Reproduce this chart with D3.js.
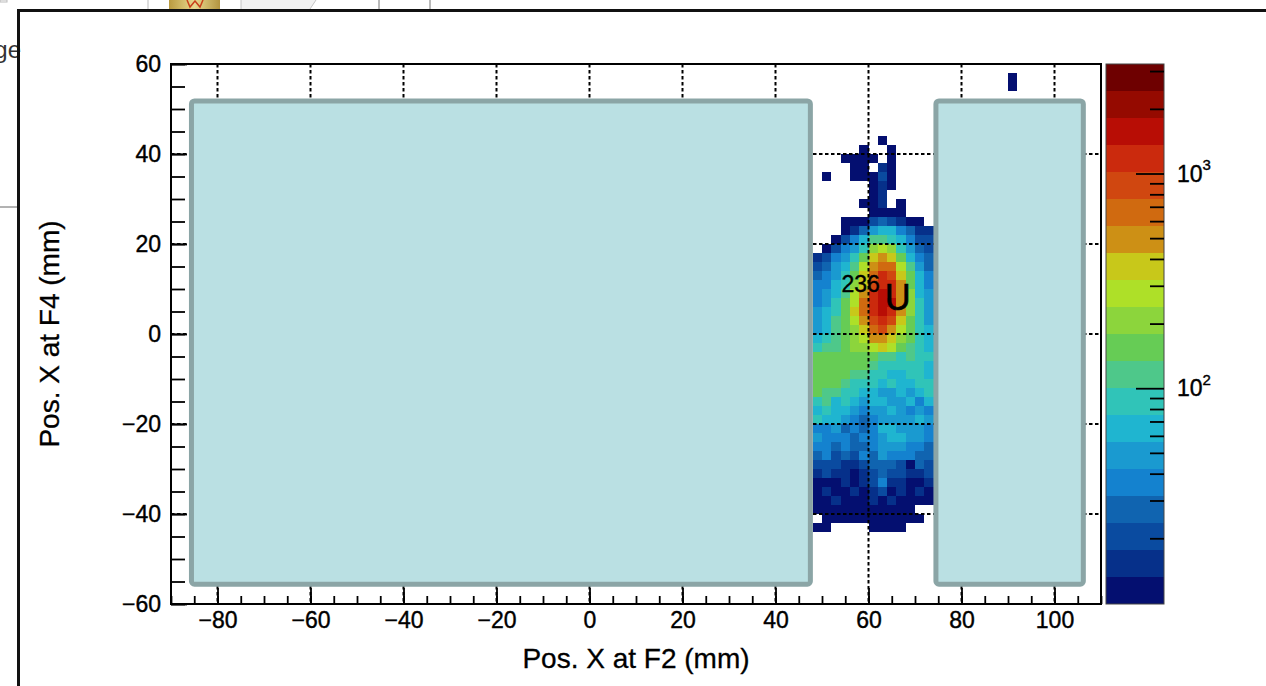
<!DOCTYPE html>
<html lang="en">
<head>
<meta charset="UTF-8" />
<title>Pos. X at F4 vs Pos. X at F2</title>
<script src="https://d3js.org/d3.v7.min.js"></script>
<style>
  body { margin: 0; background: #fff; }
  svg { display: block; font-family: "Liberation Sans", Arial, sans-serif; }
</style>
</head>
<body>
<svg width="1266" height="686" id="chart"></svg>
<script>
// bin lower edges (mm), 2 mm bins
const binX = [48, 50, 52, 54, 56, 58, 60, 62, 64, 66, 68, 70, 72];
const binY = [42, 40, 38, 36, 34, 32, 30, 28, 26, 24, 22, 20, 18, 16, 14, 12, 10, 8, 6, 4, 2, 0,
  -2, -4, -6, -8, -10, -12, -14, -16, -18, -20, -22, -24, -26, -28, -30, -32, -34, -36, -38, -40, -42, -44];
const binSize = 2;

// counts per cell, one row per binY entry (null = empty bin)
const counts = [
  [null,null,null,null,null,null,null,11,null,null,null,null,null],
  [null,null,null,null,null,11,null,null,11,null,null,null,null],
  [null,null,null,11,11,11,11,null,11,null,null,null,null],
  [null,null,null,null,11,11,null,15,11,null,null,null,null],
  [null,11,null,null,11,11,11,20,11,null,null,null,null],
  [null,null,null,null,null,null,11,15,11,null,null,null,null],
  [null,null,null,null,null,null,11,15,null,null,null,null,null],
  [null,null,null,null,null,11,11,15,null,11,null,null,null],
  [null,null,null,null,null,null,11,11,11,11,null,null,null],
  [null,null,null,11,11,11,20,27,20,15,11,11,null],
  [null,null,null,11,15,27,49,65,65,36,27,15,15],
  [null,null,11,20,36,65,116,116,87,65,36,20,20],
  [null,11,20,36,49,87,207,276,207,87,49,27,20],
  [15,20,36,49,87,155,369,493,369,155,65,36,27],
  [20,27,49,65,116,276,493,659,659,276,116,49,27],
  [27,36,49,87,155,369,659,1175,880,369,155,65,36],
  [36,36,65,87,207,369,880,1175,1175,493,155,65,36],
  [36,49,65,116,276,493,1175,1570,1175,493,207,65,49],
  [36,49,87,155,276,659,1175,1570,1570,493,207,87,49],
  [49,65,87,155,369,659,1175,1570,1175,493,207,87,49],
  [49,65,116,155,276,493,880,1175,880,369,155,87,49],
  [49,65,116,155,207,369,659,880,493,276,155,87,65],
  [65,87,116,155,207,276,493,493,369,207,155,87,65],
  [87,116,116,155,207,207,276,369,276,155,116,87,65],
  [155,155,155,155,155,155,155,116,116,87,116,87,87],
  [155,155,155,155,155,155,116,87,87,87,87,87,65],
  [155,155,155,155,116,116,87,87,65,65,87,87,65],
  [155,155,155,116,87,87,87,65,87,65,65,87,87],
  [155,116,116,87,87,65,65,49,49,65,49,65,87],
  [87,116,65,87,65,49,65,65,49,49,65,36,65],
  [65,87,65,65,49,36,49,49,65,49,36,49,36],
  [87,65,65,49,36,27,36,49,49,49,49,65,49],
  [36,36,49,27,36,27,36,65,65,49,49,49,36],
  [49,36,36,36,27,36,36,49,65,65,49,49,36],
  [36,36,27,36,27,27,36,49,49,49,36,36,27],
  [27,36,20,27,20,36,27,49,36,36,36,27,27],
  [20,20,20,15,15,20,27,27,27,20,11,27,20],
  [15,20,15,15,11,15,20,27,20,20,15,15,20],
  [11,11,11,15,11,15,20,36,15,15,11,11,15],
  [11,15,11,11,15,11,15,20,11,15,11,15,11],
  [11,11,15,11,11,11,15,11,15,11,11,11,11],
  [11,11,11,11,11,11,11,11,11,11,11,null,null],
  [null,11,11,11,11,11,11,11,11,11,11,11,null],
  [11,11,null,null,null,null,11,11,11,11,null,null,null]
];

// isolated bins outside the main block
const strayX = [90, 90];
const strayY = [54, 56];
const strayN = [11, 11];

const xTicks = [-80, -60, -40, -20, 0, 20, 40, 60, 80, 100];
const yTicks = [-60, -40, -20, 0, 20, 40, 60];
const zRange = [9.886, 3236];
const zTicks = [100, 1000];
const zTickExp = ["2", "3"];
const zMinor = [20, 30, 40, 50, 60, 70, 80, 90, 200, 300, 400, 500, 600, 700, 800, 900, 2000, 3000];

const palette = ["#040f70","#06308a","#0a4ba0","#1064b0","#1482cf","#1a9ad0","#1fb5d0","#30c4b8",
  "#4ec88a","#66cc55","#8cd53c","#aee028","#c8c81a","#cd9015","#d06a10","#d04710","#cb2a0d",
  "#b80d05","#950a00","#6e0000"];

// slide overlays covering the plot (mm)
const masks = [
  { x0: -85.6, x1: 47.5, y0: -55.6, y1: 51.8 },
  { x0: 74.5, x1: 106.2, y0: -55.6, y1: 51.8 }
];

const svg = d3.select("#chart");
const font = "'Liberation Sans', Arial, sans-serif";

const x = d3.scaleLinear().domain([-90, 110]).range([171, 1101]);
const y = d3.scaleLinear().domain([-60, 60]).range([604, 64]);
const z = d3.scaleLog().domain(zRange).range([604, 64]);
const color = d3.scaleQuantize()
  .domain([Math.log10(zRange[0]), Math.log10(zRange[1])])
  .range(palette);

svg.append("rect").attr("width", 1266).attr("height", 686).attr("fill", "#fff");

// bits of the neighbouring slide
const strip = svg.append("g");
const grad = svg.append("defs").append("linearGradient").attr("id", "pic");
grad.append("stop").attr("offset", "0%").attr("stop-color", "#b99a40");
grad.append("stop").attr("offset", "50%").attr("stop-color", "#e8d98e");
grad.append("stop").attr("offset", "100%").attr("stop-color", "#b39440");
strip.append("rect").attr("x", 0).attr("y", 0).attr("width", 7).attr("height", 2)
  .attr("fill", "none").attr("stroke", "#bbb");
strip.append("line").attr("x1", 148).attr("x2", 148).attr("y1", 0).attr("y2", 9).attr("stroke", "#bbb");
strip.append("rect").attr("x", 169).attr("y", 0).attr("width", 51).attr("height", 9).attr("fill", "url(#pic)");
strip.append("path").attr("d", "M187,0 L190,7 L195,1 L200,7 L203,0")
  .attr("fill", "none").attr("stroke", "#c8401a").attr("stroke-width", 1.5);
strip.append("path").attr("d", "M241,9 L241,0 L316,0 L310,9 Z").attr("fill", "#f1f1f1");
strip.append("path").attr("d", "M241,9 L241,0 M316,0 L310,9").attr("fill", "none").attr("stroke", "#c4c4c4");
strip.append("line").attr("x1", 379).attr("x2", 379).attr("y1", 0).attr("y2", 9).attr("stroke", "#777");
strip.append("line").attr("x1", 430).attr("x2", 430).attr("y1", 0).attr("y2", 9).attr("stroke", "#777");
svg.append("text").attr("x", 21).attr("y", 58).attr("text-anchor", "end")
  .attr("font-size", 24).attr("font-family", font).attr("fill", "#333").text("ge");
svg.append("line").attr("x1", 0).attr("x2", 18).attr("y1", 207).attr("y2", 207)
  .attr("stroke", "#666").attr("stroke-width", 1);

// slide frame
svg.append("path").attr("d", "M18.5,686 L18.5,10.5 L1266,10.5")
  .attr("fill", "none").attr("stroke", "#111").attr("stroke-width", 3);

// histogram cells
const cells = [];
counts.forEach((row, i) => {
  row.forEach((n, j) => {
    if (n !== null) cells.push({ bx: binX[j], by: binY[i], n: n });
  });
});
strayX.forEach((bx, i) => cells.push({ bx: bx, by: strayY[i], n: strayN[i] }));

svg.append("g").selectAll("rect")
  .data(cells)
  .join("rect")
  .attr("x", d => x(d.bx))
  .attr("y", d => y(d.by + binSize))
  .attr("width", d => x(d.bx + binSize) - x(d.bx))
  .attr("height", d => y(d.by) - y(d.by + binSize))
  .attr("fill", d => color(Math.log10(d.n)))
  .attr("shape-rendering", "crispEdges");

// dashed grid
const grid = svg.append("g")
  .attr("stroke", "#000").attr("stroke-width", 2).attr("stroke-dasharray", "3.5,2.5");
grid.selectAll(".gx").data(xTicks).join("line")
  .attr("x1", d => x(d)).attr("x2", d => x(d))
  .attr("y1", y(60)).attr("y2", y(-60));
grid.selectAll(".gy").data(yTicks.filter(d => d > -60 && d < 60)).join("line")
  .attr("y1", d => y(d)).attr("y2", d => y(d))
  .attr("x1", x(-90)).attr("x2", x(110));

// label
svg.append("text").attr("x", x(54.2)).attr("y", y(9.4))
  .attr("font-size", 23).attr("font-family", font)
  .attr("stroke", "#000").attr("stroke-width", 0.4).text("236");
svg.append("text").attr("x", x(63.5)).attr("y", y(5.4))
  .attr("font-size", 36).attr("font-family", font)
  .attr("stroke", "#000").attr("stroke-width", 0.6).text("U");

// overlay boxes
svg.append("g").selectAll("rect")
  .data(masks)
  .join("rect")
  .attr("x", d => x(d.x0))
  .attr("y", d => y(d.y1))
  .attr("width", d => x(d.x1) - x(d.x0))
  .attr("height", d => y(d.y0) - y(d.y1))
  .attr("rx", 3)
  .attr("fill", "#bae0e3")
  .attr("stroke", "#8ba5a6")
  .attr("stroke-width", 5);

// axes
function styleAxis(g, size) {
  g.select(".domain").remove();
  g.attr("font-size", size).attr("font-family", font);
  g.selectAll(".tick line").attr("stroke", "#000").attr("stroke-width", 1.8);
  g.selectAll(".tick text").attr("fill", "#000").attr("stroke", "#000").attr("stroke-width", 0.4);
}

svg.append("g").attr("transform", "translate(0,604)")
  .call(d3.axisBottom(x).tickValues(d3.range(-90, 111, 5)).tickSize(-8).tickFormat(""))
  .call(g => styleAxis(g, 23));
svg.append("g").attr("transform", "translate(0,604)")
  .call(d3.axisBottom(x).tickValues(xTicks).tickSize(-16).tickPadding(8))
  .call(g => styleAxis(g, 23));

svg.append("g").attr("transform", "translate(171,0)")
  .call(d3.axisLeft(y).tickValues(d3.range(-60, 61, 5)).tickSize(-14).tickFormat(""))
  .call(g => styleAxis(g, 23));
svg.append("g").attr("transform", "translate(171,0)")
  .call(d3.axisLeft(y).tickValues(yTicks).tickSize(-16).tickPadding(10))
  .call(g => styleAxis(g, 23));

// frame
svg.append("rect")
  .attr("x", x(-90)).attr("y", y(60))
  .attr("width", x(110) - x(-90)).attr("height", y(-60) - y(60))
  .attr("fill", "none").attr("stroke", "#000").attr("stroke-width", 2);

// axis titles
svg.append("text").attr("x", (x(-90) + x(110)) / 2).attr("y", 668)
  .attr("text-anchor", "middle").attr("font-size", 28).attr("font-family", font)
  .attr("stroke", "#000").attr("stroke-width", 0.3)
  .text("Pos. X at F2 (mm)");
svg.append("text")
  .attr("transform", `translate(59,${(y(60) + y(-60)) / 2}) rotate(-90)`)
  .attr("text-anchor", "middle").attr("font-size", 28).attr("font-family", font)
  .attr("stroke", "#000").attr("stroke-width", 0.3)
  .text("Pos. X at F4 (mm)");

// colour bar
const barX0 = 1106, barX1 = 1164;
const edges = [color.domain()[0], ...color.thresholds(), color.domain()[1]];
svg.append("g").selectAll("rect")
  .data(palette)
  .join("rect")
  .attr("x", barX0)
  .attr("width", barX1 - barX0)
  .attr("y", (c, i) => z(Math.pow(10, edges[i + 1])))
  .attr("height", (c, i) => z(Math.pow(10, edges[i])) - z(Math.pow(10, edges[i + 1])))
  .attr("fill", c => c)
  .attr("shape-rendering", "crispEdges");
svg.append("rect").attr("x", barX0).attr("y", 64).attr("width", barX1 - barX0).attr("height", 540)
  .attr("fill", "none").attr("stroke", "#444").attr("stroke-width", 1);

svg.append("g").attr("transform", `translate(${barX1},0)`)
  .call(d3.axisRight(z).tickValues(zMinor).tickSize(-14).tickFormat(""))
  .call(g => styleAxis(g, 23));
svg.append("g").attr("transform", `translate(${barX1},0)`)
  .call(d3.axisRight(z).tickValues(zTicks).tickSize(-28).tickFormat(""))
  .call(g => styleAxis(g, 23));

const zLab = svg.append("g").selectAll("text")
  .data(zTicks)
  .join("text")
  .attr("x", 1177)
  .attr("y", d => z(d))
  .attr("dy", "0.35em")
  .attr("font-size", 23)
  .attr("font-family", font)
  .attr("stroke", "#000").attr("stroke-width", 0.4);
zLab.append("tspan").text("10");
zLab.append("tspan").attr("font-size", 15).attr("dy", "-0.75em").text((d, i) => zTickExp[i]);
</script>
</body>
</html>
